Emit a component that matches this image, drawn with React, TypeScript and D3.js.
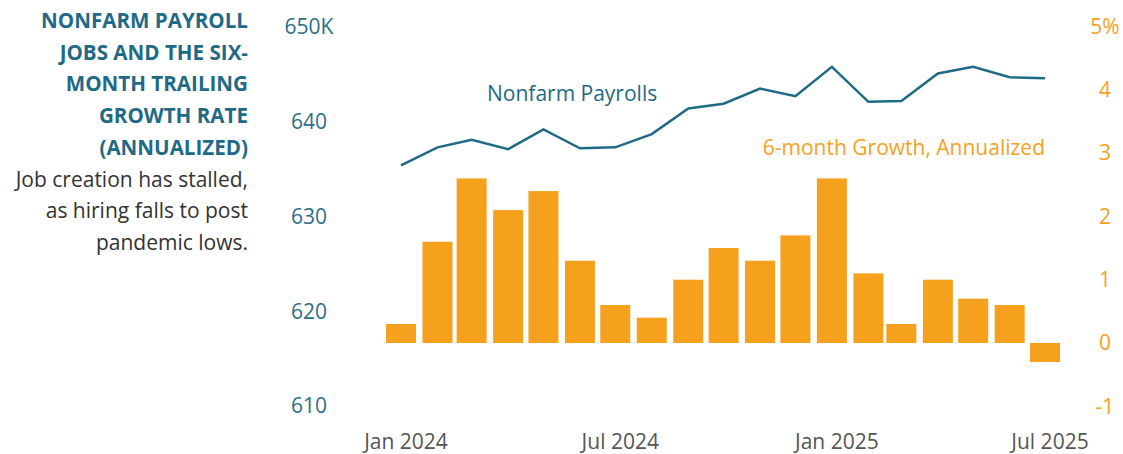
import React from 'react';
import * as d3 from 'd3';

// monthly data, Jan 2024 .. Jul 2025
const months = [
  '2024-01', '2024-02', '2024-03', '2024-04', '2024-05', '2024-06',
  '2024-07', '2024-08', '2024-09', '2024-10', '2024-11', '2024-12',
  '2025-01', '2025-02', '2025-03', '2025-04', '2025-05', '2025-06', '2025-07',
];
const payrolls = [
  635.4, 637.3, 638.1, 637.1, 639.2, 637.2, 637.3, 638.7, 641.4, 641.9,
  643.5, 642.7, 645.8, 642.1, 642.2, 645.1, 645.8, 644.7, 644.6,
];
const growth = [
  0.3, 1.6, 2.6, 2.1, 2.4, 1.3, 0.6, 0.4, 1.0, 1.5,
  1.3, 1.7, 2.6, 1.1, 0.3, 1.0, 0.7, 0.6, -0.3,
];
const leftTicks = [610, 620, 630, 640, 650];
const rightTicks = [-1, 0, 1, 2, 3, 4, 5];
const xTicks = ['2024-01', '2024-07', '2025-01', '2025-07'];

const titleLines = ['NONFARM PAYROLL', 'JOBS AND THE SIX-', 'MONTH TRAILING', 'GROWTH RATE', '(ANNUALIZED)'];
const bodyLines = ['Job creation has stalled,', 'as hiring falls to post', 'pandemic lows.'];

const TEAL = '#1f6a86';
const ORANGE = '#f5a11e';
const FONT = '"Open Sans", "Noto Sans", sans-serif';

const parse = d3.timeParse('%Y-%m');
const fmt = d3.timeFormat('%b %Y');

const App = () => {
  const width = 1123;
  const height = 454;

  const dates = months.map((m) => parse(m) as Date);

  const x = d3.scaleTime()
    .domain([dates[0], dates[dates.length - 1]])
    .range([401, 1045]);

  const yLeft = d3.scaleLinear().domain([610, 650]).range([406, 27]);
  const yRight = d3.scaleLinear().domain([-1, 5]).range([406.3, 26.5]);

  const barW = 30;

  const line = d3.line<number>()
    .x((d, i) => x(dates[i]))
    .y((d) => yLeft(d));

  return (
    <svg width={width} height={height}
      style={{ position: 'absolute', left: 0, top: 0, background: 'white', fontFamily: FONT }}>
      {/* title block */}
      <g textAnchor="end">
        {titleLines.map((t, i) => (
          <text key={t} x={248} y={28 + i * 31.7} fill={TEAL} fontSize={20.6} fontWeight={700}>{t}</text>
        ))}
        {bodyLines.map((t, i) => (
          <text key={t} x={248} y={28 + (i + 5) * 31.7} fill="#333" fontSize={21}>{t}</text>
        ))}
      </g>

      {/* left axis */}
      <g textAnchor="middle" fill="#2b6f88" fontSize={21}>
        {leftTicks.map((t) => (
          <text key={t} x={309} y={yLeft(t)} dy="0.35em">{t === 650 ? '650K' : t}</text>
        ))}
      </g>

      {/* right axis */}
      <g textAnchor="middle" fill={ORANGE} fontSize={21}>
        {rightTicks.map((t) => (
          <text key={t} x={1105} y={yRight(t)} dy="0.35em">{t === 5 ? '5%' : t}</text>
        ))}
      </g>

      {/* x axis */}
      <g textAnchor="middle" fill="#555" fontSize={21}>
        {xTicks.map((m) => {
          const d = parse(m) as Date;
          return <text key={m} x={x(d) + 5} y={449}>{fmt(d)}</text>;
        })}
      </g>

      {/* bars */}
      <g fill={ORANGE}>
        {growth.map((v, i) => (
          <rect key={i}
            x={x(dates[i]) - barW / 2}
            y={yRight(Math.max(0, v))}
            width={barW}
            height={Math.abs(yRight(v) - yRight(0))} />
        ))}
      </g>

      {/* line */}
      <path d={line(payrolls) || ''} fill="none" stroke={TEAL} strokeWidth={2.5} strokeLinejoin="miter" />

      {/* series labels */}
      <text x={487} y={101} fill={TEAL} fontSize={21}>Nonfarm Payrolls</text>
      <text x={1045} y={155} fill={ORANGE} fontSize={21} textAnchor="end">6-month Growth, Annualized</text>
    </svg>
  );
};

export default App;
